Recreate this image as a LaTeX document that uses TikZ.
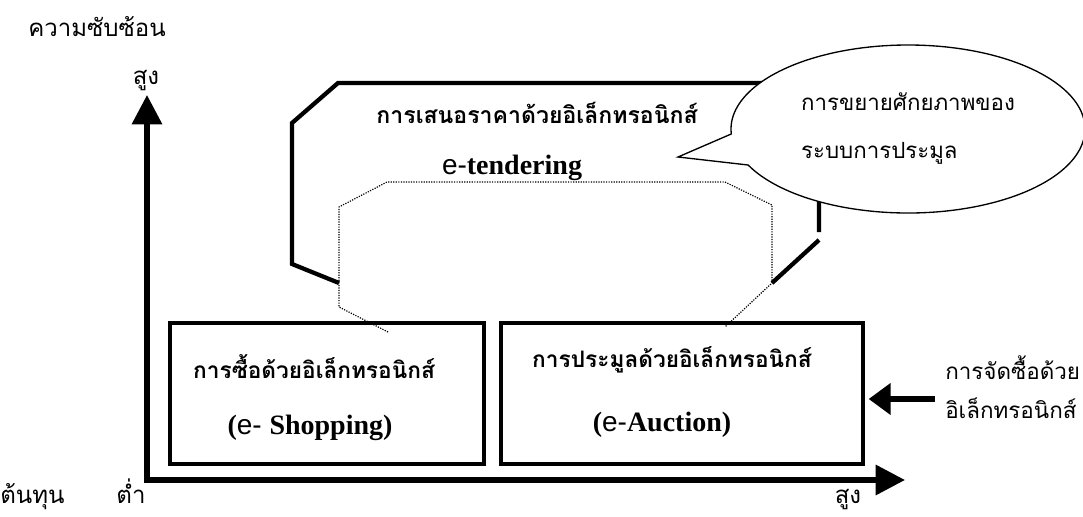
\documentclass[tikz,border=0pt]{standalone}
\usepackage{fontspec}
\setmainfont{Liberation Serif}
\newfontfamily\thaifont[Script=Thai]{Loma}
\newfontfamily\arialfont{Liberation Sans}
\usetikzlibrary{arrows.meta, shapes.callouts}

\begin{document}
\begin{tikzpicture}[x = 0.75pt, y = -0.75pt, > = {Triangle[length = 22pt, width = 22pt]},
	thai/.style = {font = \thaifont\fontsize{18}{29}\selectfont, inner sep = 0pt},
	thaibold/.style = {font = \thaifont\bfseries\fontsize{17}{26}\selectfont, inner sep = 0pt},
	latin/.style = {font = \fontsize{21}{24}\selectfont, inner sep = 0pt},
	itembox/.style = {draw, line width = 2.5pt, minimum height = 105.75pt}]

	% Definitions

	\def\W{1083}	% Width of picture
	\def\H{517}		% Height of picture

	\useasboundingbox (0, 0) rectangle (\W, \H);

	% Axes

	\coordinate (origin) at (147, 480);
	\draw [line width = 4pt, <->] (147, 95) -- (origin) -- (905, 480);
	\node [thai, anchor = base west] (complexity) at (28, 37) {ความซับซ้อน};
	\node [thai, anchor = base] (yhigh) at (146, 85) {สูง};
	\node [thai, anchor = base west] (cost) at (0, 503) {ต้นทุน};
	\node [thai, anchor = base] (xlow) at (131, 503) {ต่ำ};
	\node [thai, anchor = base] (xhigh) at (848, 503) {สูง};

	% e-tendering, thick outline and dotted inner outline

	\draw [line width = 3.2pt] (339, 283) -- (292, 264) -- (292, 123) -- (338, 83)
		-- (800, 83) -- (819, 110) -- (819, 232);
	\draw [line width = 3.2pt] (819, 240) -- (772, 283);
	\draw [densely dotted, line width = 0.9pt] (388, 332) -- (339, 307) -- (339, 207) -- (387, 182)
		-- (725, 182) -- (772, 205) -- (772, 283) -- (725, 327);
	\node [thaibold, font = \thaifont\bfseries\fontsize{17.3}{26}\selectfont] (tenderth) at (537, 113)
		{การเสนอราคาด้วยอิเล็กทรอนิกส์};
	\node [latin] (tenderen) at (512, 168) {{\arialfont e-}\textbf{tendering}};

	% Callout

	\node [ellipse callout, draw, fill = white, line width = 1pt, minimum width = 265.5pt,
		minimum height = 126pt, callout absolute pointer = {(678, 157)}, callout pointer arc = 22,
		align = left, font = \thaifont\fontsize{16.7}{36}\selectfont] (bubble) at (908, 129)
		{การขยายศักยภาพของ\\ระบบการประมูล};

	% Boxes

	\node [itembox, minimum width = 235.5pt] (shop) at (327, 393.5) {};
	\node [itembox, minimum width = 271.5pt] (auction) at (682, 393.5) {};
	\node [thaibold] (shopth) at (314, 367) {การซื้อด้วยอิเล็กทรอนิกส์};
	\node [latin] (shopen) at (310, 428) {\textbf{(}{\arialfont e- }\textbf{Shopping)}};
	\node [thaibold] (auctionth) at (672, 360) {การประมูลด้วยอิเล็กทรอนิกส์};
	\node [latin] (auctionen) at (662, 425) {\textbf{(}{\arialfont e-}\textbf{Auction)}};

	% e-procurement arrow

	\node [thai, anchor = west, align = left, font = \thaifont\fontsize{16.8}{29}\selectfont] (procure)
		at (945, 387.5) {การจัดซื้อด้วย\\อิเล็กทรอนิกส์};
	\coordinate (ptail) at (935, 399);
	\draw [line width = 4pt, -{Triangle[length = 16.5pt, width = 23pt]}] (ptail) -- ([xshift = 3pt] ptail -| auction.east);

\end{tikzpicture}
\end{document}
